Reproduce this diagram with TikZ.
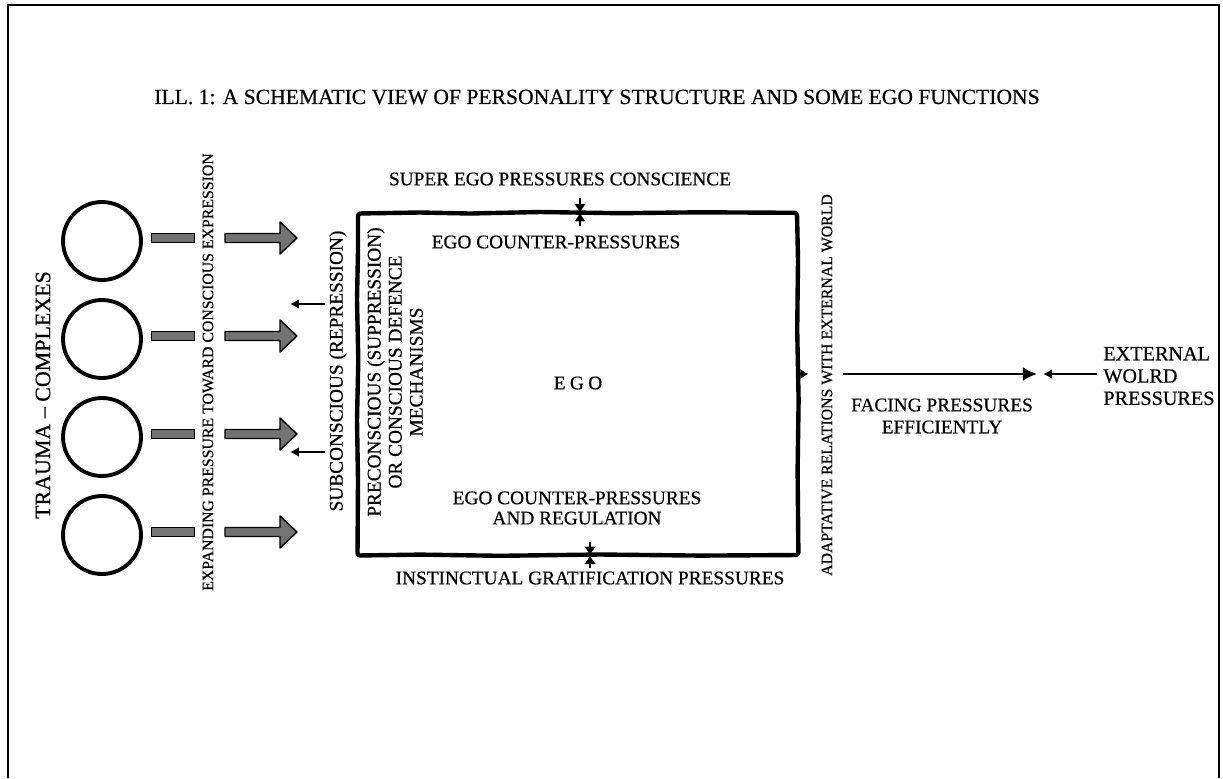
\documentclass[tikz,border=0pt]{standalone}
\usepackage{fontspec}
\setmainfont{Liberation Serif}[FakeBold=0.5]
\usetikzlibrary{arrows.meta,calc}
\begin{document}
\begin{tikzpicture}[x=0.02cm,y=-0.02cm,
  lbl/.style={inner sep=0pt, align=center, font=\fontsize{11}{12.5}\selectfont},
  vsmall/.style={inner sep=0pt, rotate=90, font=\fontsize{9}{10}\selectfont},
  ring/.style={circle, draw, line width=2.2pt, minimum size=1.56cm, inner sep=0pt},
  bar/.style={rectangle, draw, fill=black!55, line width=0.8pt, minimum width=0.86cm, minimum height=0.18cm, inner sep=0pt},
  push/.style={draw, fill=black!55, line width=0.8pt, line join=round},
  egobox/.style={rectangle, minimum width=8.82cm, minimum height=6.84cm, inner sep=0pt},
  boxline/.style={line width=2.5pt, rounded corners=1.5pt, line join=round},
  thinarrow/.style={line width=1.2pt, -{Latex[length=5pt,width=5.5pt]}},
  edgemark/.style={line width=1.2pt, -{Latex[length=5pt,width=7pt]}},
]
\useasboundingbox (0,0) rectangle (1223,778);
% frame
\draw[line width=1.1pt] (8,778) -- (8,5) -- (1219,5) -- (1219,778);

% title
\node[inner sep=0pt, font=\fontsize{12.3}{14}\selectfont] (title) at (597,97)
  {ILL. 1: A SCHEMATIC VIEW OF PERSONALITY STRUCTURE AND SOME EGO FUNCTIONS};

% trauma complexes with their pushing arrows
\foreach \y [count=\i] in {241,339,437,535}{
  \node[ring] (c\i) at (102,\y) {};
  \node[bar] (b\i) at (173,{\y-3}) {};
  \filldraw[push] (225,{\y-7.5}) -- (280,{\y-7.5}) -- (280,{\y-19}) -- (297,{\y-3})
     -- (280,{\y+13}) -- (280,{\y+1.5}) -- (225,{\y+1.5}) -- cycle;
}
\node[inner sep=0pt, rotate=90, font=\fontsize{12.5}{14}\selectfont] (trauma) at (43,395) {TRAUMA – COMPLEXES};
\node[vsmall] (expand) at (208,372) {EXPANDING PRESSURE TOWARD CONSCIOUS EXPRESSION};

% repression arrows
\coordinate (r1) at (325,304); \coordinate (r1h) at (290,304);
\coordinate (r2) at (325,452); \coordinate (r2h) at (290,452);
\draw[thinarrow] (r1) -- (r1h);
\draw[thinarrow] (r2) -- (r2h);
\node[lbl, rotate=90] (subc) at (338,371) {SUBCONSCIOUS (REPRESSION)};

% the ego box, drawn by hand along its outline
\node[egobox] (box) at (577.5,384) {};
\draw[boxline] (358,213.5) -- (420,212.5) -- (470,213.5) -- (540,212) -- (620,213.2)
  -- (700,212.3) -- (797,212.8) -- (798,260) -- (797.2,330) -- (798.6,400) -- (797.6,470)
  -- (798.4,555) -- (700,555.6) -- (600,554.5) -- (500,555.8) -- (420,554.6) -- (357.5,555.5)
  -- (358,480) -- (357,420) -- (358.3,360) -- (357,300) -- (358,250) -- cycle;
\node[lbl, rotate=90, font=\fontsize{11}{12}\selectfont] (prec) at (395,372)
  {PRECONSCIOUS (SUPPRESSION)\\OR CONSCIOUS DEFENCE\\MECHANISMS};
\node[lbl] (super) at (560,179) {SUPER EGO PRESSURES CONSCIENCE};
\node[lbl] (ecp) at (556,242) {EGO COUNTER-PRESSURES};
\node[lbl] (ego) at (578,383) {E\hspace{2.5pt}G\hspace{2.5pt}O};
\node[lbl, font=\fontsize{11}{11.5}\selectfont] (ecpr) at (577,508) {EGO COUNTER-PRESSURES\\AND REGULATION};
\node[lbl] (inst) at (590,578) {INSTINCTUAL GRATIFICATION PRESSURES};

% pressure marks on the box edges
\path (box.north) ++(2.5,0) coordinate (mt);
\draw[edgemark] ($(mt)+(0,-15)$) -- (mt);
\draw[edgemark] ($(mt)+(0,13)$) -- (mt);
\path (box.south) ++(12.5,0) coordinate (mb);
\draw[edgemark] ($(mb)+(0,13)$) -- (mb);
\draw[edgemark] ($(mb)+(0,-13)$) -- (mb);

% relations with the external world
\node[vsmall] (adapt) at (827,385) {ADAPTATIVE RELATIONS WITH EXTERNAL WORLD};
\coordinate (fa) at (843,374); \coordinate (fb) at (1037,374);
\draw[line width=1.2pt, -{Latex[length=4.5pt,width=6pt]}] (box.east |- fa) -- ++(10,0);
\draw[line width=1.6pt, -{Latex[length=8pt,width=8pt]}] (fa) -- (fb);
\node[lbl] (facing) at (942,416) {FACING PRESSURES\\EFFICIENTLY};
\node[lbl, align=left, anchor=west, font=\fontsize{11.5}{12.7}\selectfont] (ext) at (1103,376)
  {EXTERNAL\\WOLRD\\PRESSURES};
\coordinate (ea) at (1097,374); \coordinate (eb) at (1043,374);
\draw[thinarrow] (ea) -- (eb);
\end{tikzpicture}
\end{document}
